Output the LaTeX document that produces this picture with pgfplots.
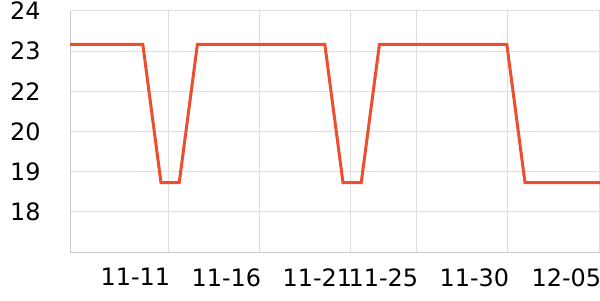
\documentclass[border=0pt]{standalone}
\usepackage{fontspec}
\setmainfont{DejaVu Sans}
\usepackage{pgfplots}
\pgfplotsset{compat=1.18}
\definecolor{lineC}{RGB}{238,77,46}
\definecolor{gridC}{RGB}{221,221,221}
\definecolor{axisC}{RGB}{200,200,200}
\begin{document}
\begin{tikzpicture}[x=1bp,y=1bp]
\path[use as bounding box] (0,0) rectangle (600,300);
\begin{axis}[
  at={(70bp,48bp)}, anchor=south west,
  scale only axis, width=530bp, height=241bp,
  xmin=0, xmax=29.12, ymin=0, ymax=6,
  axis line style={axisC, line width=1bp},
  axis x line=bottom, axis y line=left,
  axis line shift=0pt,
  x axis line style={-}, y axis line style={-},
  xtick={0,5.4,10.4,15.4,19.03,24.03,29.08},
  xticklabels={,11-11,11-16,11-21,11-25,11-30,12-05},
  ytick={1,2,3,4,5,6},
  yticklabels={18,19,20,22,23,24},
  grid=major, major grid style={gridC, line width=1bp},
  tick style={draw=none},
  tick label style={font=\fontsize{24}{24}\selectfont, text=black},
  xticklabel style={anchor=north east, inner sep=0pt, yshift=-14bp, xshift=2bp},
  yticklabel style={anchor=east, inner sep=0pt, xshift=-27bp},
  /pgf/number format/assume math mode=true,
  clip=false,
]
\addplot[lineC, line width=3bp, line join=miter] coordinates {
(0,5.17)(1,5.17)(2,5.17)(3,5.17)(4,5.17)(5,1.725)(6,1.725)(7,5.17)(8,5.17)(9,5.17)(10,5.17)(11,5.17)(12,5.17)(13,5.17)(14,5.17)(15,1.725)(16,1.725)(17,5.17)(18,5.17)(19,5.17)(20,5.17)(21,5.17)(22,5.17)(23,5.17)(24,5.17)(25,1.725)(26,1.725)(27,1.725)(28,1.725)(29,1.725)(29.12,1.725)
};
\end{axis}
\end{tikzpicture}
\end{document}
